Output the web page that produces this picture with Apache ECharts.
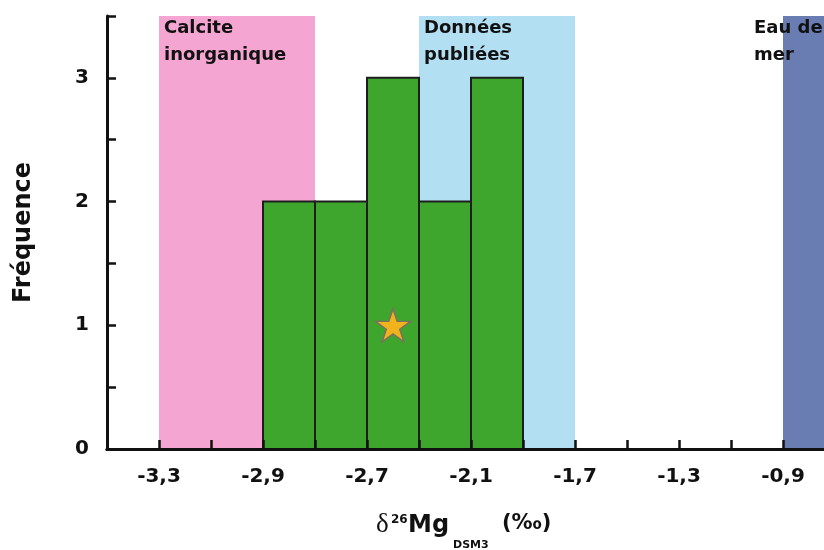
<!DOCTYPE html>
<html><head><meta charset="utf-8">
<script src="https://cdn.jsdelivr.net/npm/echarts@6/dist/echarts.min.js"></script>
<style>html,body{margin:0;padding:0;background:#fff}#c{width:824px;height:550px}</style>
</head><body><div id="c"></div>
<script>
// ---- data ----
const binEdges = [-2.9, -2.7, -2.5, -2.3, -2.1, -1.9];
const counts = [2, 2, 3, 2, 3];
const tickValues = [-3.3, -2.9, -2.5, -2.1, -1.7, -1.3, -0.9];
const tickLabels = ['-3,3', '-2,9', '-2,7', '-2,1', '-1,7', '-1,3', '-0,9'];
const bandNames = ['Calcite\ninorganique', 'Données\npubliées', 'Eau de\nmer'];
const bandRanges = [[-3.3, -2.7], [-2.3, -1.7], [-0.9, -0.5]];
const starPoint = [-2.4, 1];
const yTicks = [0, 1, 2, 3];

const FONT = '"DejaVu Sans", "Liberation Sans", sans-serif';
const bandColors = ['#f4a5d1', '#b3dff3', '#6a7db3'];
const bandLabelOffsets = [[0, -6], [0, -6], [-34, -6]];

const labelMap = {};
tickValues.forEach((v, i) => { labelMap[Math.round(v * 10)] = tickLabels[i]; });

const chart = echarts.init(document.getElementById('c'), null, {renderer: 'canvas'});

const markData = bandRanges.map((r, i) => [
  {xAxis: r[0], yAxis: 3.5, name: bandNames[i],
   itemStyle: {color: bandColors[i], opacity: 1},
   label: {show: true, position: 'insideTopLeft', offset: bandLabelOffsets[i],
           formatter: bandNames[i], color: '#111', fontFamily: FONT,
           fontWeight: 'bold', fontSize: 18, lineHeight: 27}},
  {xAxis: r[1], yAxis: 0}
]);

const option = {
  animation: false,
  grid: {left: 107, width: 728, top: 16, height: 433, containLabel: false, outerBoundsMode: 'none'},
  xAxis: [{
    type: 'value', min: -3.5, max: -0.7, interval: 0.2,
    splitLine: {show: false},
    axisLine: {show: true, onZero: false, lineStyle: {color: '#111', width: 3}},
    axisTick: {show: true, inside: true, length: 9, lineStyle: {color: '#111', width: 2.5}},
    axisLabel: {
      margin: 18, color: '#111', fontFamily: FONT, fontWeight: 'bold', fontSize: 20,
      showMinLabel: true, showMaxLabel: true,
      formatter: v => labelMap[Math.round(v * 10)] || ''
    },
    z: 10
  }, {
    type: 'value', position: 'top', min: -3.5, max: -0.7,
    splitLine: {show: false}, axisTick: {show: false}, axisLabel: {show: false},
    axisLine: {show: true, lineStyle: {color: '#111', width: 3}}, z: 10
  }],
  yAxis: {
    type: 'value', min: 0, max: 3.5, interval: 0.5,
    splitLine: {show: false},
    axisLine: {show: true, lineStyle: {color: '#111', width: 3}},
    axisTick: {show: true, inside: true, length: 9, lineStyle: {color: '#111', width: 2.5}},
    axisLabel: {
      margin: 18, color: '#111', fontFamily: FONT, fontWeight: 'bold', fontSize: 20,
      formatter: v => (yTicks.indexOf(v) >= 0 ? String(v) : '')
    },
    name: 'Fréquence', nameLocation: 'middle', nameGap: 71, nameRotate: 90,
    nameTextStyle: {color: '#111', fontFamily: FONT, fontWeight: 'bold', fontSize: 24},
    z: 10
  },
  series: [{
    type: 'line', data: [], z: 1, silent: true,
    markArea: {silent: true, data: markData}
  }, {
    type: 'custom', z: 3,
    data: counts.map((c, i) => [binEdges[i], binEdges[i + 1], c]),
    encode: {x: [0, 1], y: 2},
    renderItem: function (params, api) {
      const p0 = api.coord([api.value(0), 0]);
      const p1 = api.coord([api.value(1), api.value(2)]);
      return {type: 'rect',
        shape: {x: p0[0], y: p1[1], width: p1[0] - p0[0], height: p0[1] - p1[1]},
        style: {fill: '#3ea52d', stroke: '#1e1e1e', lineWidth: 2}};
    }
  }, {
    type: 'scatter', z: 5, data: [starPoint],
    symbol: 'path://M50,0 L61.8,35.1 L98.9,35.1 L68.9,56.9 L80.3,91.9 L50,70.2 L19.7,91.9 L31.1,56.9 L1.1,35.1 L38.2,35.1 Z',
    symbolSize: [35, 33],
    itemStyle: {color: '#f0b31b', borderColor: '#7d7060', borderWidth: 1.5, opacity: 1}
  }],
  graphic: [
    {type: 'text', left: 376, top: 511, style: {text: 'δ', font: '27px "Liberation Serif", "Times New Roman", serif', fill: '#111'}},
    {type: 'text', left: 391, top: 514, style: {text: '26', font: 'bold 12px ' + FONT, fill: '#111'}},
    {type: 'text', left: 408, top: 514, style: {text: 'Mg', font: 'bold 24px ' + FONT, fill: '#111'}},
    {type: 'text', left: 453, top: 540, style: {text: 'DSM3', font: 'bold 11px ' + FONT, fill: '#111'}},
    {type: 'text', left: 502, top: 513, style: {text: '(‰)', font: 'bold 21px ' + FONT, fill: '#111'}}
  ]
};
chart.setOption(option);
</script></body></html>
